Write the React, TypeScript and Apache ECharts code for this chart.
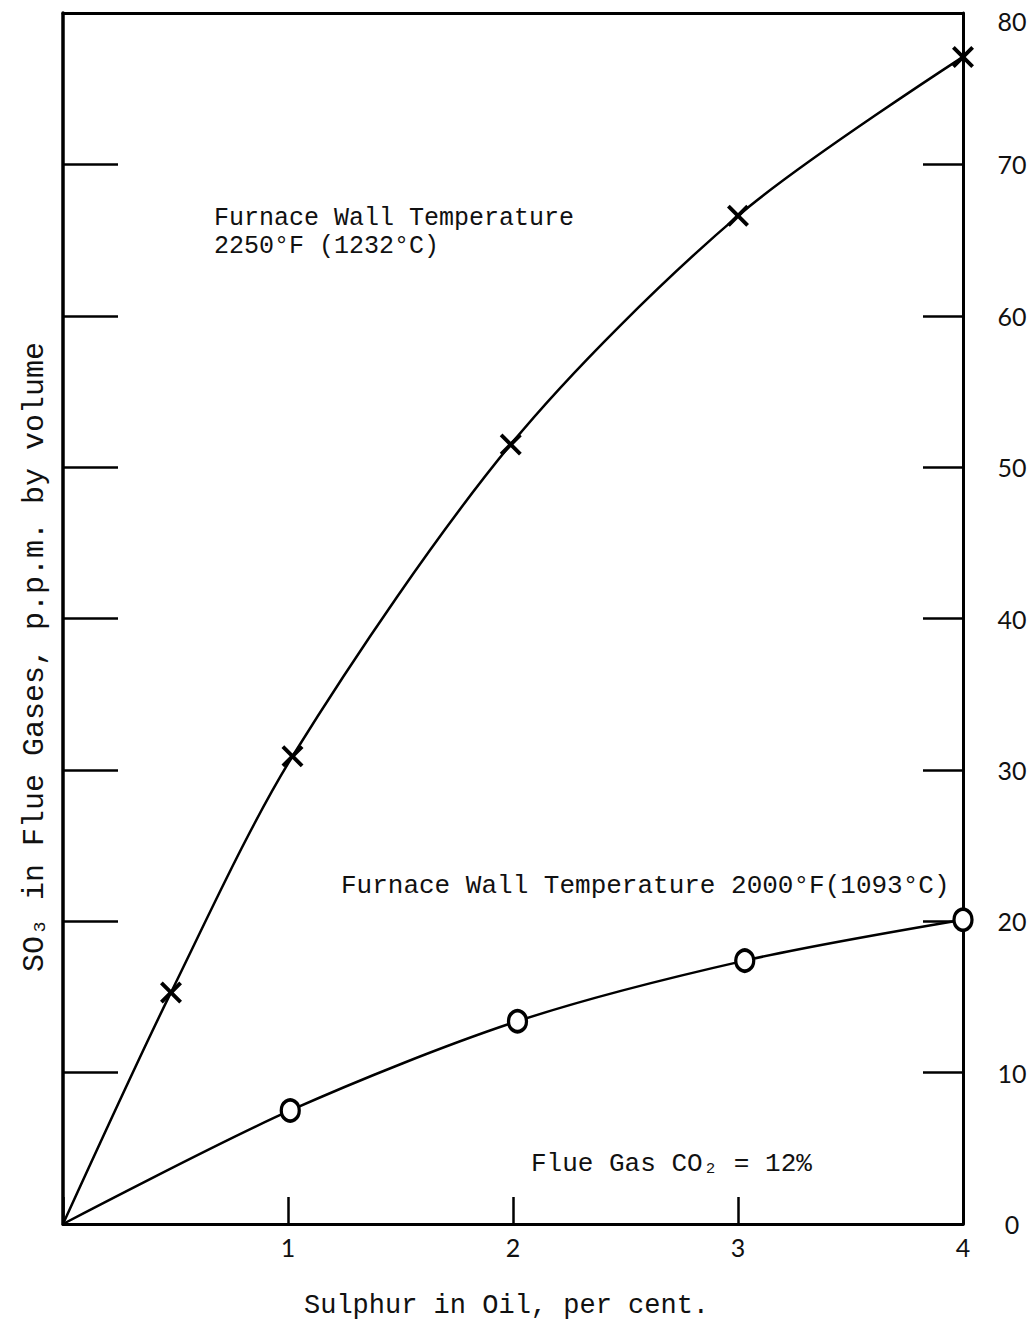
import React, { useEffect, useRef } from "react";
import * as echarts from "echarts";

// Sulphur in oil (%) vs SO3 (p.p.m.)
const hotX = [0, 0.48, 1.02, 1.99, 3.0, 4.0];
const hotY = [0, 15.3, 30.9, 51.5, 66.6, 77.1];
const coolX = [0, 1.01, 2.02, 3.03, 4.0];
const coolY = [0, 7.5, 13.4, 17.4, 20.1];
const xTicks = ["", "1", "2", "3", "4"];
const yTicks = ["0", "10", "20", "30", "40", "50", "60", "70", "80"];

const MONO = '"Liberation Mono", "DejaVu Sans Mono", monospace';
const SANS = 'Lato, "Noto Sans", sans-serif';
const CROSS =
  "path://M0,2.5 L2.5,0 L10,7.5 L17.5,0 L20,2.5 L12.5,10 L20,17.5 L17.5,20 L10,12.5 L2.5,20 L0,17.5 L7.5,10 Z";

export default function App() {
  const ref = useRef<HTMLDivElement>(null);
  useEffect(() => {
    if (!ref.current) return;
    const chart = echarts.init(ref.current, null, { renderer: "svg" });
    const hotData = hotX.map((x, i) =>
      i === 0 ? { value: [x, hotY[i]], symbol: "none" } : { value: [x, hotY[i]] }
    );
    const coolData = coolX.map((x, i) =>
      i === 0 ? { value: [x, coolY[i]], symbol: "none" } : { value: [x, coolY[i]] }
    );
    const black = "#000";
    chart.setOption({
      animation: false,
      backgroundColor: "#fff",
      grid: { left: 63, top: 13, width: 900, height: 1211, containLabel: false },
      xAxis: [
        {
          type: "value",
          position: "bottom",
          min: 0,
          max: 4,
          interval: 1,
          splitLine: { show: false },
          axisLine: { show: true, onZero: false, lineStyle: { color: black, width: 3 } },
          axisTick: { show: true, inside: true, length: 27, lineStyle: { color: black, width: 2.5 } },
          axisLabel: {
            margin: 10,
            color: "#111",
            fontFamily: SANS,
            fontSize: 25,
            formatter: (v: number) => xTicks[Math.round(v)] ?? "",
          },
        },
        {
          type: "value",
          position: "top",
          min: 0,
          max: 4,
          interval: 1,
          splitLine: { show: false },
          axisLine: { show: true, onZero: false, lineStyle: { color: black, width: 3 } },
          axisTick: { show: false },
          axisLabel: { show: false },
        },
      ],
      yAxis: [
        {
          type: "value",
          position: "right",
          min: 0,
          max: 80,
          interval: 10,
          splitLine: { show: false },
          axisLine: { show: true, onZero: false, lineStyle: { color: black, width: 3 } },
          axisTick: { show: true, inside: true, length: 40, lineStyle: { color: black, width: 2.5 } },
          axisLabel: {
            margin: 49,
            align: "center",
            color: "#111",
            fontFamily: SANS,
            fontSize: 25,
            formatter: (v: number) => {
              const s = yTicks[Math.round(v / 10)] ?? "";
              return v >= 80 ? `{t|${s}}` : s;
            },
            rich: {
              t: { fontFamily: SANS, fontSize: 25, color: "#111", padding: [16, 0, 0, 0] },
            },
          },
        },
        {
          type: "value",
          position: "left",
          min: 0,
          max: 80,
          interval: 10,
          splitLine: { show: false },
          axisLine: { show: true, onZero: false, lineStyle: { color: black, width: 3.5 } },
          axisTick: { show: true, inside: true, length: 55, lineStyle: { color: black, width: 2.5 } },
          axisLabel: { show: false },
        },
      ],
      series: [
        {
          type: "line",
          xAxisIndex: 0,
          yAxisIndex: 0,
          data: hotData,
          smooth: 0.3,
          symbol: CROSS,
          symbolSize: 22,
          lineStyle: { color: black, width: 2.5 },
          itemStyle: { color: black },
          z: 3,
        },
        {
          type: "line",
          xAxisIndex: 0,
          yAxisIndex: 0,
          data: coolData,
          smooth: 0.3,
          symbol: "circle",
          symbolSize: [18, 21],
          lineStyle: { color: black, width: 2.5 },
          itemStyle: { color: "#fff", borderColor: black, borderWidth: 3.5 },
          z: 3,
        },
      ],
      graphic: [
        {
          type: "text",
          left: 214,
          top: 204,
          style: {
            text: "Furnace Wall Temperature\n2250°F (1232°C)",
            font: `25px ${MONO}`,
            lineHeight: 28,
            fill: "#111",
          },
        },
        {
          type: "text",
          left: 341,
          top: 873,
          style: {
            text: "Furnace Wall Temperature 2000°F(1093°C)",
            font: `26px ${MONO}`,
            fill: "#111",
          },
        },
        {
          type: "text",
          left: 531,
          top: 1151,
          style: { text: "Flue Gas CO₂ = 12%", font: `26px ${MONO}`, fill: "#111" },
        },
        {
          type: "text",
          left: 304,
          top: 1292,
          style: { text: "Sulphur in Oil, per cent.", font: `27px ${MONO}`, fill: "#111" },
        },
        {
          type: "text",
          x: 35,
          y: 657,
          rotation: Math.PI / 2,
          style: {
            text: "SO₃ in Flue Gases, p.p.m. by volume",
            font: `30px ${MONO}`,
            fill: "#111",
            align: "center",
            verticalAlign: "middle",
          },
        },
      ],
    });
    return () => chart.dispose();
  }, []);
  return (
    <div
      ref={ref}
      style={{ position: "absolute", left: 0, top: 0, width: 1032, height: 1329 }}
    />
  );
}
